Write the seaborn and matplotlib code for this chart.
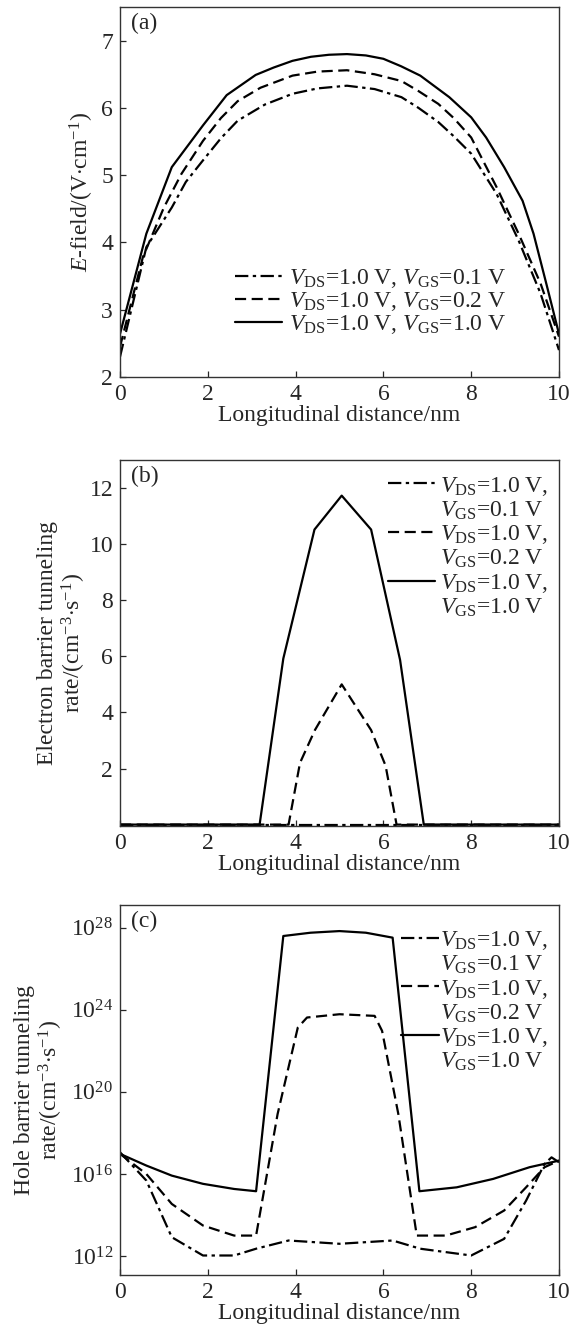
import numpy as np
import pandas as pd
import matplotlib
matplotlib.use("Agg")
import matplotlib.pyplot as plt
from matplotlib.lines import Line2D
import seaborn as sns

# ── data ──────────────────────────────────────────────────────────────────────
# (a) E-field
a_x_solid = [0, 0.6, 1.18, 1.89, 2.43, 3.09, 3.5, 3.93, 4.35, 4.76, 5.17, 5.6, 6.0, 6.4, 6.84, 7.5, 8.0, 8.34, 8.75, 9.17, 9.42, 9.71, 10]
a_y_solid = [2.64, 4.13, 5.12, 5.74, 6.19, 6.49, 6.60, 6.70, 6.76, 6.79, 6.80, 6.78, 6.73, 6.62, 6.48, 6.16, 5.86, 5.56, 5.12, 4.62, 4.13, 3.39, 2.64]
a_x_dash = [0, 0.52, 1.0, 1.4, 1.89, 2.3, 2.68, 3.2, 3.93, 4.5, 5.17, 5.8, 6.41, 6.8, 7.25, 7.6, 8.0, 8.58, 9.08, 9.58, 10]
a_y_dash = [2.45, 3.78, 4.52, 5.02, 5.51, 5.85, 6.10, 6.30, 6.48, 6.54, 6.56, 6.50, 6.40, 6.25, 6.06, 5.85, 5.56, 4.82, 4.13, 3.39, 2.60]
a_x_dd = [0, 0.6, 1.18, 1.5, 1.89, 2.3, 2.68, 3.3, 3.93, 4.5, 5.17, 5.8, 6.41, 6.8, 7.25, 7.6, 8.0, 8.58, 9.08, 9.58, 10]
a_y_dd = [2.30, 3.93, 4.52, 4.90, 5.22, 5.55, 5.81, 6.05, 6.21, 6.29, 6.33, 6.28, 6.16, 6.00, 5.79, 5.58, 5.32, 4.72, 4.03, 3.24, 2.40]

# (b) electron barrier tunneling rate
b_x_solid = [0, 3.18, 3.72, 4.43, 5.05, 5.72, 6.38, 6.92, 10]
b_y_solid = [0, 0, 5.92, 10.52, 11.73, 10.52, 5.87, 0, 0]
b_x_dash = [0, 3.84, 4.10, 4.44, 5.05, 5.72, 6.05, 6.30, 10]
b_y_dash = [0, 0, 2.2, 3.37, 5.0, 3.37, 2.1, 0, 0]
b_x_dd = [0, 10]
b_y_dd = [0, 0]

# (c) hole barrier tunneling rate (log10 of value)
c_x_solid = [0, 0.6, 1.18, 1.89, 2.6, 3.1, 3.72, 4.34, 5.0, 5.6, 6.21, 6.82, 7.67, 8.5, 9.33, 10]
c_e_solid = [16.98, 16.41, 15.92, 15.52, 15.27, 15.16, 27.59, 27.75, 27.83, 27.75, 27.51, 15.16, 15.35, 15.76, 16.33, 16.65]
c_x_dash = [0, 0.6, 1.18, 1.89, 2.6, 3.1, 3.59, 4.05, 4.26, 5.0, 5.8, 5.97, 6.34, 6.76, 7.42, 8.09, 8.75, 9.25, 9.67, 10]
c_e_dash = [16.98, 16.0, 14.54, 13.49, 13.0, 13.0, 18.92, 23.13, 23.62, 23.78, 23.70, 22.97, 18.92, 13.0, 13.0, 13.41, 14.22, 15.35, 16.33, 16.65]
c_x_dd = [0, 0.6, 1.18, 1.89, 2.6, 3.1, 3.84, 5.0, 6.21, 6.84, 8.0, 8.75, 9.25, 9.67, 9.83, 10]
c_e_dd = [17.06, 15.68, 12.92, 12.03, 12.03, 12.36, 12.76, 12.60, 12.76, 12.36, 12.03, 12.84, 14.70, 16.49, 16.81, 16.57]

VGS = ["0.1", "0.2", "1.0"]
LABELS_ONE = [r"$V_{\rm DS}$=1.0 V, $V_{\rm GS}$=" + v + " V" for v in VGS]
LABEL_DS = r"$V_{\rm DS}$=1.0 V,"
LABELS_GS = [r"$V_{\rm GS}$=" + v + " V" for v in VGS]
STYLES = [(0, (6, 2, 1.5, 2)), (0, (5, 2.5)), "-"]

sns.set_theme(style="ticks")
plt.rcParams["font.family"] = ["Liberation Serif", "DejaVu Serif"]
plt.rcParams["mathtext.fontset"] = "custom"
plt.rcParams["mathtext.rm"] = "Liberation Serif"
plt.rcParams["mathtext.it"] = "Liberation Serif:italic"
plt.rcParams["axes.linewidth"] = 1.0
plt.rcParams["axes.edgecolor"] = "#333333"
plt.rcParams["xtick.direction"] = "in"
plt.rcParams["ytick.direction"] = "in"

FS = 17
W, H = 573, 1329


def box(l, t, r, b):
    return [l / W, 1 - b / H, (r - l) / W, (b - t) / H]


fig = plt.figure(figsize=(W / 100, H / 100), dpi=100)
ax_a = fig.add_axes(box(120, 7, 559, 377))
ax_b = fig.add_axes(box(120, 460, 559, 826))
ax_c = fig.add_axes(box(120, 905, 559, 1275))


def draw(ax, series, labels):
    for (xs, ys), lab, ls in zip(series, labels, STYLES):
        df = pd.DataFrame({"x": xs, "y": ys})
        sns.lineplot(data=df, x="x", y="y", ax=ax, color="black",
                     linestyle=ls, linewidth=1.6, label=lab, sort=False)
    ax.set_xlim(0, 10)
    ax.set_xticks([0, 2, 4, 6, 8, 10])
    ax.set_xlabel("Longitudinal distance/nm", fontsize=FS, labelpad=0)
    ax.tick_params(labelsize=FS, length=4, width=0.9, pad=5)
    for s in ax.spines.values():
        s.set_visible(True)


def two_line_legend(ax, anchor, hlen, tpad):
    handles, _ = ax.get_legend_handles_labels()
    blank = Line2D([], [], color="none")
    hs, ls = [], []
    for h, gs in zip(handles, LABELS_GS):
        hs += [h, blank]
        ls += [LABEL_DS, gs]
    ax.legend(hs, ls, loc="upper right", bbox_to_anchor=anchor, frameon=False,
              fontsize=FS, handlelength=hlen, handletextpad=tpad,
              labelspacing=0.07, borderaxespad=0, borderpad=0)


# (a)
draw(ax_a, [(a_x_dd, a_y_dd), (a_x_dash, a_y_dash), (a_x_solid, a_y_solid)], LABELS_ONE)
ax_a.set_ylim(2, 7.5)
ax_a.set_yticks([2, 3, 4, 5, 6, 7])
ax_a.set_ylabel(r"$E$-field/(V$\cdot$cm$^{-1}$)", fontsize=FS, labelpad=4)
ax_a.legend(loc="lower right", bbox_to_anchor=(0.88, 0.11), frameon=False, fontsize=FS,
            handlelength=2.0, handletextpad=0.3, labelspacing=0.0, borderaxespad=0,
            borderpad=0)
ax_a.text(0.025, 0.985, "(a)", transform=ax_a.transAxes, fontsize=FS, va="top", ha="left")

# (b)
draw(ax_b, [(b_x_dd, b_y_dd), (b_x_dash, b_y_dash), (b_x_solid, b_y_solid)], LABELS_ONE)
ax_b.set_ylim(-0.05, 13)
ax_b.set_yticks([2, 4, 6, 8, 10, 12])
ax_b.set_ylabel("Electron barrier tunneling\n" + r"rate/(cm$^{-3}$$\cdot$s$^{-1}$)",
                fontsize=FS, labelpad=1, linespacing=1.1)
two_line_legend(ax_b, (0.975, 0.96), 2.0, 0.2)
ax_b.text(0.025, 0.985, "(b)", transform=ax_b.transAxes, fontsize=FS, va="top", ha="left")

# (c)
draw(ax_c, [(c_x_dd, [10.0 ** e for e in c_e_dd]),
            (c_x_dash, [10.0 ** e for e in c_e_dash]),
            (c_x_solid, [10.0 ** e for e in c_e_solid])], LABELS_ONE)
ax_c.set_yscale("log")
ax_c.set_ylim(10 ** 11.08, 10 ** 29.1)
ax_c.set_yticks([1e12, 1e16, 1e20, 1e24, 1e28])
ax_c.set_yticklabels([r"10$^{12}$", r"10$^{16}$", r"10$^{20}$", r"10$^{24}$", r"10$^{28}$"])
ax_c.minorticks_off()
ax_c.set_ylabel("Hole barrier tunneling\n" + r"rate/(cm$^{-3}$$\cdot$s$^{-1}$)",
                fontsize=FS, labelpad=4, linespacing=1.1)
two_line_legend(ax_c, (0.975, 0.935), 1.6, 0.05)
ax_c.text(0.025, 0.985, "(c)", transform=ax_c.transAxes, fontsize=FS, va="top", ha="left")

fig.savefig("out.png", dpi=100)
